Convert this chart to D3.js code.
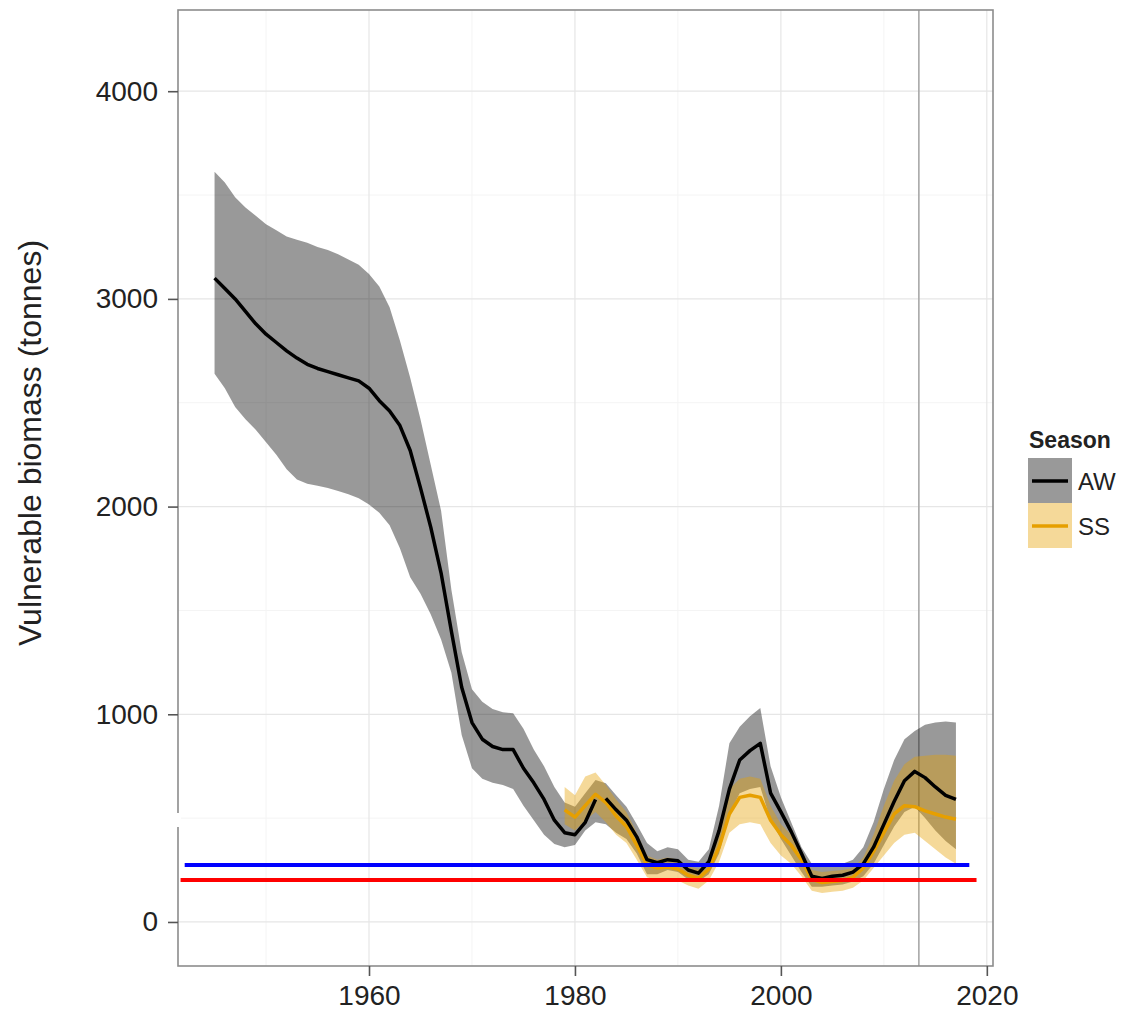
<!DOCTYPE html>
<html>
<head>
<meta charset="utf-8">
<script src="https://cdn.jsdelivr.net/npm/d3@7"></script>
<style>
  html, body { margin: 0; padding: 0; background: #fff; }
  svg { display: block; font-family: "Liberation Sans", Arial, Helvetica, sans-serif; }
</style>
</head>
<body>
<svg id="chart" width="1125" height="1012"></svg>
<script>
// ---------------- DATA ----------------
const awYears = d3.range(1945, 2018);
const awMedian = [3100,3050,3000,2940,2880,2830,2790,2750,2715,2685,2665,2650,2635,2620,2605,
  2570,2510,2460,2390,2270,2090,1900,1680,1400,1130,960,880,845,830,830,
  740,670,590,490,430,420,480,590,595,540,490,410,300,285,300,295,250,235,
  290,440,640,780,825,860,620,530,435,330,220,210,220,225,240,280,360,470,
  580,680,725,695,650,610,590];
const awUpper = [3612,3560,3490,3440,3400,3360,3330,3300,3285,3270,3250,3235,3215,3190,3165,
  3120,3060,2960,2800,2620,2420,2200,1980,1600,1300,1120,1060,1025,1010,1005,
  930,830,750,650,575,555,620,684,668,610,555,470,380,340,360,350,300,290,
  350,560,860,940,990,1030,750,600,480,360,280,270,275,280,300,360,480,640,
  780,880,920,950,960,965,960];
const awLower = [2640,2570,2480,2420,2370,2310,2250,2180,2130,2110,2100,2090,2075,2060,2040,
  2010,1970,1910,1800,1660,1580,1480,1360,1200,900,740,690,670,660,640,
  560,490,420,375,360,370,440,480,470,430,400,330,230,230,250,240,205,195,
  230,330,520,620,640,650,490,400,320,240,170,170,175,180,195,220,280,370,
  460,530,555,500,440,390,350];
const awLineBreakAfter = 1982;   // the AW line is not joined between 1982 and 1983

const ssYears = d3.range(1979, 2018);
const ssMedian = [540,505,560,615,575,510,460,370,275,260,265,255,225,210,255,360,520,600,610,600,
  490,420,370,300,205,190,195,200,215,260,340,430,520,560,555,535,520,505,495];
const ssUpper = [650,610,700,720,660,590,530,430,320,300,310,300,270,255,300,450,640,690,700,690,
  560,470,420,340,250,240,245,250,260,310,420,560,680,760,795,800,805,805,800];
const ssLower = [470,440,490,530,480,420,380,300,215,200,210,200,175,160,200,290,430,470,480,470,
  380,320,280,220,150,140,145,150,165,200,260,320,380,420,430,390,350,310,280];

const refYear = 2013.4;               // vertical reference line
const blueRef = {x0: 1942.1, x1: 2018.3, value: 274};
const redRef  = {x0: 1941.7, x1: 2019.0, value: 202};

const xTicks = [1960, 1980, 2000, 2020];
const xMinor = [1950, 1970, 1990, 2010];
const yTicks = [0, 1000, 2000, 3000, 4000];
const yMinor = [500, 1500, 2500, 3500];

const seasons = ["AW", "SS"];
const yTitle = "Vulnerable biomass (tonnes)";
const legendTitle = "Season";

// ---------------- LAYOUT ----------------
const P = {left: 178, top: 10, right: 993, bottom: 966};
const svg = d3.select("#chart");

const x = d3.scaleLinear().domain([1941.45, 2020.6]).range([P.left, P.right]);
const y = d3.scaleLinear().domain([-212, 4391]).range([P.bottom, P.top]);

const fillCol = {AW: "rgba(0,0,0,0.4)", SS: "rgba(230,159,0,0.4)"};
const lineCol = {AW: "#000000", SS: "#E69F00"};

// clip
svg.append("defs").append("clipPath").attr("id", "clip")
  .append("rect").attr("x", P.left).attr("y", P.top)
  .attr("width", P.right - P.left).attr("height", P.bottom - P.top);

// grid
const grid = svg.append("g");
grid.selectAll(".minx").data(xMinor).join("line")
  .attr("x1", d => x(d)).attr("x2", d => x(d)).attr("y1", P.top).attr("y2", P.bottom)
  .attr("stroke", "#f4f4f4").attr("stroke-width", 1);
grid.selectAll(".miny").data(yMinor).join("line")
  .attr("y1", d => y(d)).attr("y2", d => y(d)).attr("x1", P.left).attr("x2", P.right)
  .attr("stroke", "#f4f4f4").attr("stroke-width", 1);
grid.selectAll(".majx").data(xTicks).join("line")
  .attr("x1", d => x(d)).attr("x2", d => x(d)).attr("y1", P.top).attr("y2", P.bottom)
  .attr("stroke", "#e6e6e6").attr("stroke-width", 1.2);
grid.selectAll(".majy").data(yTicks).join("line")
  .attr("y1", d => y(d)).attr("y2", d => y(d)).attr("x1", P.left).attr("x2", P.right)
  .attr("stroke", "#e6e6e6").attr("stroke-width", 1.2);

// vertical reference line
svg.append("line")
  .attr("x1", x(refYear)).attr("x2", x(refYear)).attr("y1", P.top).attr("y2", P.bottom)
  .attr("stroke", "#a8a8a8").attr("stroke-width", 1.6);

const plot = svg.append("g").attr("clip-path", "url(#clip)");

function rows(years, med, lo, hi) {
  return years.map((yr, i) => ({year: yr, med: med[i], lo: lo[i], hi: hi[i]}));
}
const awData = rows(awYears, awMedian, awLower, awUpper);
const ssData = rows(ssYears, ssMedian, ssLower, ssUpper);

const area = d3.area().x(d => x(d.year)).y0(d => y(d.lo)).y1(d => y(d.hi));
const line = d3.line().x(d => x(d.year)).y(d => y(d.med));

plot.append("path").datum(awData).attr("d", area).attr("fill", fillCol.AW);
plot.append("path").datum(ssData).attr("d", area).attr("fill", fillCol.SS);

plot.append("path").datum(ssData).attr("d", line)
  .attr("fill", "none").attr("stroke", lineCol.SS).attr("stroke-width", 3.5)
  .attr("stroke-linejoin", "round");

const awSeg1 = awData.filter(d => d.year <= awLineBreakAfter);
const awSeg2 = awData.filter(d => d.year > awLineBreakAfter);
[awSeg1, awSeg2].forEach(seg => {
  plot.append("path").datum(seg).attr("d", line)
    .attr("fill", "none").attr("stroke", lineCol.AW).attr("stroke-width", 3.5)
    .attr("stroke-linejoin", "round");
});

// reference horizontal lines
[[blueRef, "#0000ff"], [redRef, "#ff0000"]].forEach(([r, c]) => {
  svg.append("line")
    .attr("x1", x(r.x0)).attr("x2", x(r.x1))
    .attr("y1", y(r.value)).attr("y2", y(r.value))
    .attr("stroke", c).attr("stroke-width", 4);
});

// panel border
svg.append("rect").attr("x", P.left).attr("y", P.top)
  .attr("width", P.right - P.left).attr("height", P.bottom - P.top)
  .attr("fill", "none").attr("stroke", "#8c8c8c").attr("stroke-width", 1.6);

// axis break gap on left edge
svg.append("rect").attr("x", P.left - 3).attr("y", 813).attr("width", 6).attr("height", 14)
  .attr("fill", "#fff");

// axes
const xAxis = d3.axisBottom(x).tickValues(xTicks).tickFormat(d3.format("d"))
  .tickSize(10).tickPadding(9);
const gx = svg.append("g").attr("transform", `translate(0,${P.bottom})`).call(xAxis);
gx.select(".domain").remove();
gx.selectAll(".tick line").attr("stroke", "#555").attr("stroke-width", 1.6);
gx.selectAll(".tick text").attr("font-size", 28).attr("fill", "#222")
  .attr("font-family", "'Liberation Sans', Arial, sans-serif");

const yAxis = d3.axisLeft(y).tickValues(yTicks).tickFormat(d3.format("d"))
  .tickSize(10).tickPadding(10);
const gy = svg.append("g").attr("transform", `translate(${P.left},0)`).call(yAxis);
gy.select(".domain").remove();
gy.selectAll(".tick line").attr("stroke", "#555").attr("stroke-width", 1.6);
gy.selectAll(".tick text").attr("font-size", 28).attr("fill", "#222")
  .attr("font-family", "'Liberation Sans', Arial, sans-serif");

// y title
svg.append("text")
  .attr("transform", "translate(41,443) rotate(-90)")
  .attr("text-anchor", "middle")
  .attr("font-size", 32).attr("fill", "#222")
  .text(yTitle);

// legend
const lg = svg.append("g");
lg.append("text").attr("x", 1029).attr("y", 448)
  .attr("font-size", 23).attr("font-weight", "bold").attr("fill", "#222")
  .text(legendTitle);
seasons.forEach((s, i) => {
  const top = 458 + i * 45;
  lg.append("rect").attr("x", 1028).attr("y", top).attr("width", 44).attr("height", 45)
    .attr("fill", fillCol[s]);
  lg.append("line").attr("x1", 1032).attr("x2", 1068)
    .attr("y1", top + 23).attr("y2", top + 23)
    .attr("stroke", lineCol[s]).attr("stroke-width", 3.5);
  lg.append("text").attr("x", 1078).attr("y", top + 32)
    .attr("font-size", 24).attr("fill", "#222").text(s);
});
</script>
</body>
</html>
